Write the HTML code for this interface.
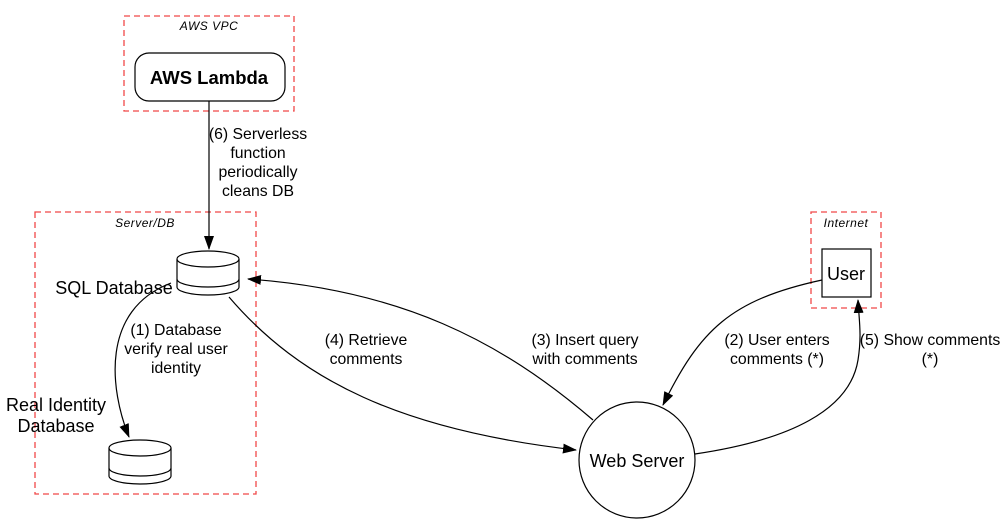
<!DOCTYPE html>
<html><head><meta charset="utf-8"><style>
html,body{margin:0;padding:0;background:#fff;}
svg{display:block;}
text{font-family:"Liberation Sans",Arial,sans-serif;}
</style></head><body>
<svg width="1007" height="523" viewBox="0 0 1007 523" xmlns="http://www.w3.org/2000/svg" font-family="Liberation Sans, Arial, sans-serif">
<defs>
<marker id="b" viewBox="0 0 14 10" markerWidth="14" markerHeight="10" refX="13" refY="5" orient="auto" markerUnits="userSpaceOnUse">
<path d="M0,0 L14,5 L0,10 z" fill="#000"/></marker>
</defs>
<g fill="none" stroke="#f04848" stroke-width="1.3" stroke-dasharray="6,4">
<rect x="124" y="16" width="170" height="95"/>
<rect x="35" y="212" width="221" height="282"/>
<rect x="811" y="212" width="70" height="96"/>
</g>
<g font-style="italic" font-size="12" text-anchor="middle" fill="#000" letter-spacing="0.5">
<text x="209" y="30">AWS VPC</text>
<text x="145" y="227">Server/DB</text>
<text x="846" y="227">Internet</text>
</g>
<rect x="135" y="53" width="150" height="48" rx="14" fill="#fff" stroke="#000" stroke-width="1.2"/>
<text x="209" y="84" font-size="18.5" font-weight="bold" text-anchor="middle">AWS Lambda</text>
<g fill="none" stroke="#000" stroke-width="1.2">
<path d="M177,259 v28 a31,8 0 0 0 62,0 v-28"/>
<ellipse cx="208" cy="259" rx="31" ry="8"/>
<path d="M177,279 a31,8 0 0 0 62,0"/>
<path d="M109,448 v28 a31,8 0 0 0 62,0 v-28"/>
<ellipse cx="140" cy="448" rx="31" ry="8"/>
<path d="M109,468 a31,8 0 0 0 62,0"/>
<circle cx="637" cy="460" r="58"/>
<rect x="822" y="249" width="49" height="48"/>
</g>
<g font-size="18" text-anchor="middle">
<text x="114" y="294">SQL Database</text>
<text x="56" y="411">Real Identity</text>
<text x="56" y="432">Database</text>
<text x="637" y="467">Web Server</text>
<text x="846" y="280">User</text>
</g>
<g fill="none" stroke="#000" stroke-width="1.2">
<path d="M209,101 L209,249" marker-end="url(#b)"/>
<path d="M171,283 C100,310 110,390 129,437" marker-end="url(#b)"/>
<path d="M229,297 C300,380 400,430 576,450" marker-end="url(#b)"/>
<path d="M593,420 C500,340 400,290 248,279" marker-end="url(#b)"/>
<path d="M822,280 C730,300 700,330 663,405" marker-end="url(#b)"/>
<path d="M695,454 C790,440 850,410 858,360 C862,335 859,320 858,300" marker-end="url(#b)"/>
</g>
<g font-size="15.8" text-anchor="middle" fill="#000">
<text x="258" y="139">(6) Serverless</text>
<text x="258" y="158">function</text>
<text x="258" y="177">periodically</text>
<text x="258" y="196">cleans DB</text>
<text x="176" y="335">(1) Database</text>
<text x="176" y="354">verify real user</text>
<text x="176" y="373">identity</text>
<text x="366" y="345">(4) Retrieve</text>
<text x="366" y="364">comments</text>
<text x="585" y="345">(3) Insert query</text>
<text x="585" y="364">with comments</text>
<text x="777" y="345">(2) User enters</text>
<text x="777" y="364">comments (*)</text>
<text x="930" y="345">(5) Show comments</text>
<text x="930" y="364">(*)</text>
</g>
</svg>
</body></html>
